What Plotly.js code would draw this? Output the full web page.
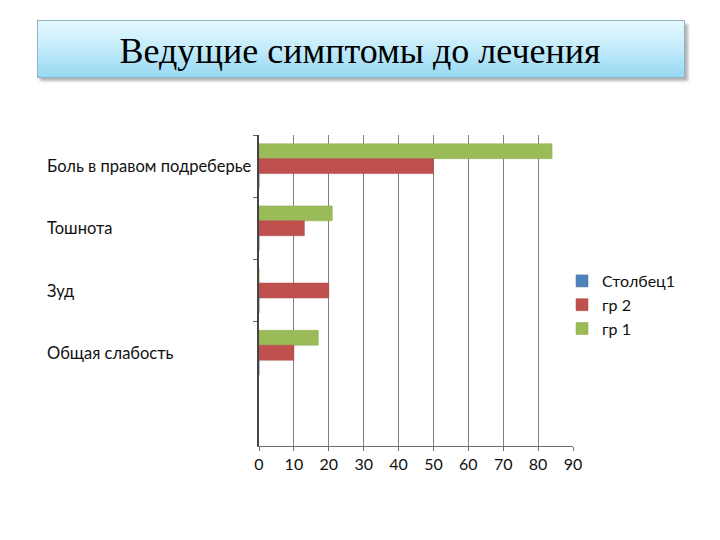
<!DOCTYPE html>
<html>
<head>
<meta charset="utf-8">
<script src="https://cdn.plot.ly/plotly-3.0.1.min.js"></script>
<style>html,body{margin:0;padding:0;background:#fff;}#chart{width:720px;height:540px;}</style>
</head>
<body>
<div id="chart"></div>
<script>
const chartTitle = 'Ведущие симптомы до лечения';
const categories = ['Боль в правом подреберье', 'Тошнота', 'Зуд', 'Общая слабость'];
const seriesNames = ['гр 1', 'гр 2', 'Столбец1'];
const gr1 = [84, 21, 0, 17];
const gr2 = [50, 13, 20, 10];
const stolbec1 = [0, 0, 0, 0];
const xTicks = [0, 10, 20, 30, 40, 50, 60, 70, 80, 90];

const colors = ['#9bbb59', '#c0504d', '#4f81bd'];
const lineColors = ['#8aa84e', '#a94643', '#46729f'];
const values = [gr1, gr2, stolbec1];

const traces = values.map((v, i) => ({
  type: 'bar',
  orientation: 'h',
  name: seriesNames[i],
  x: v,
  y: categories,
  marker: {color: colors[i], line: {color: lineColors[i], width: 0.5}},
  hoverinfo: 'skip'
}));

const labelFont = {family: 'Lato, "Open Sans", sans-serif', size: 16.5, color: '#111'};
const legendFont = {family: 'Lato, "Open Sans", sans-serif', size: 16, color: '#111'};

const annotations = categories.map(c => ({
  xref: 'paper', yref: 'y', x: -0.6815, y: c,
  xanchor: 'left', yanchor: 'middle',
  text: c, showarrow: false, font: labelFont
}));

const svg = '<svg xmlns="http://www.w3.org/2000/svg" width="654" height="64" viewBox="0 0 654 64">' +
  '<defs><linearGradient id="g" x1="0" y1="0" x2="0" y2="1">' +
  '<stop offset="0" stop-color="#e6f8fe"/><stop offset="0.45" stop-color="#c6edfb"/><stop offset="1" stop-color="#96d8f3"/></linearGradient>' +
  '<filter id="s" x="-5%" y="-20%" width="110%" height="150%"><feGaussianBlur stdDeviation="1.8"/></filter></defs>' +
  '<rect x="3" y="4" width="648" height="57" fill="#8a8a8a" opacity="0.65" filter="url(#s)"/>' +
  '<rect x="0.5" y="0.5" width="647" height="57" fill="url(#g)" stroke="#8db4c6" stroke-width="1"/>' +
  '</svg>';
const svgUri = 'data:image/svg+xml;base64,' + btoa(svg);

const L = 259, R = 573, T = 135, B = 446;
const pw = R - L, ph = B - T;

const layout = {
  width: 720, height: 540,
  paper_bgcolor: '#ffffff', plot_bgcolor: '#ffffff',
  margin: {l: L, r: 720 - R, t: T, b: 540 - B, pad: 0},
  barmode: 'group',
  bargap: 0.28, bargroupgap: 0,
  showlegend: true,
  title: {
    text: chartTitle,
    font: {family: '"Liberation Serif", "Times New Roman", serif', size: 36, color: '#000'},
    xref: 'container', yref: 'container', x: 0.5, y: 1 - 50 / 540,
    xanchor: 'center', yanchor: 'middle'
  },
  legend: {
    x: (562 - L) / pw, y: (B - 264) / ph, xanchor: 'left', yanchor: 'top',
    traceorder: 'reversed',
    font: legendFont,
    bgcolor: 'rgba(0,0,0,0)'
  },
  xaxis: {
    range: [0, 90], tickvals: xTicks, ticktext: xTicks.map(String),
    showgrid: true, gridcolor: '#808080', gridwidth: 1,
    zeroline: false,
    showline: true, linecolor: '#6e6e6e', linewidth: 1,
    ticks: 'outside', ticklen: 4, tickcolor: '#6e6e6e',
    tickfont: legendFont, fixedrange: true
  },
  yaxis: {
    type: 'category', categoryorder: 'array', categoryarray: categories,
    range: [categories.length + 0.5, -0.5],
    showticklabels: false,
    showgrid: false, zeroline: false,
    showline: true, linecolor: '#444', linewidth: 2,
    ticks: 'outside', ticklen: 4, tickcolor: '#666', tickson: 'boundaries',
    fixedrange: true, layer: 'above traces'
  },
  annotations: annotations,
  images: [{
    source: svgUri, xref: 'paper', yref: 'paper',
    x: (37 - L) / pw, y: (B - 20) / ph,
    sizex: 654 / pw, sizey: 64 / ph,
    xanchor: 'left', yanchor: 'top', sizing: 'stretch', layer: 'below'
  }]
};

Plotly.newPlot('chart', traces, layout, {displayModeBar: false, staticPlot: true});
</script>
</body>
</html>
